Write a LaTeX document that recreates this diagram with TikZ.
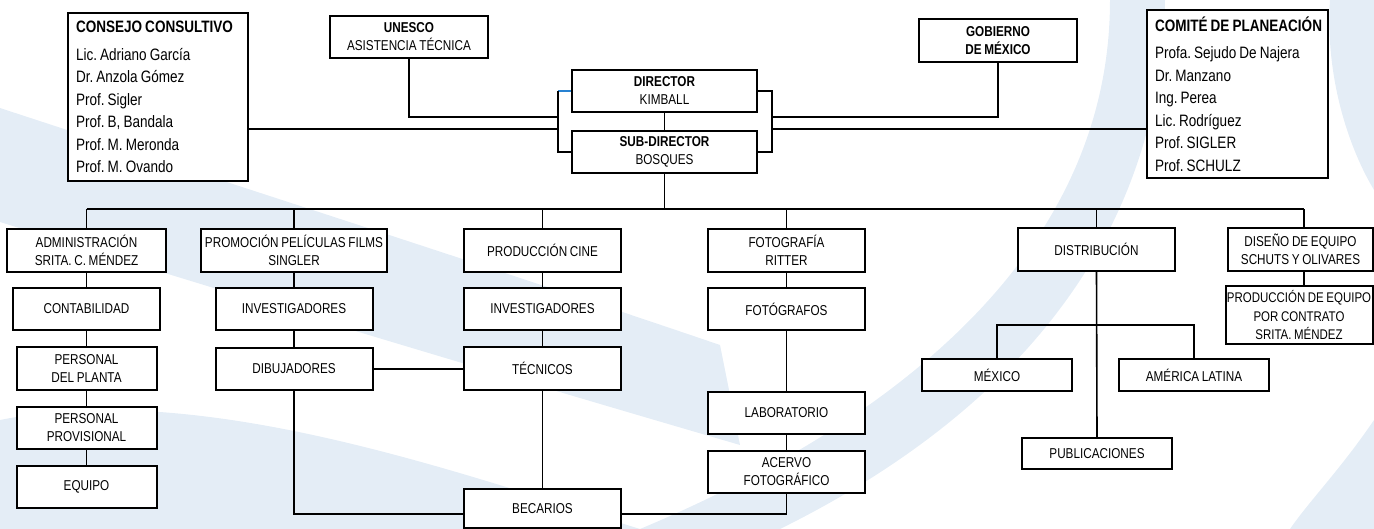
\documentclass[tikz,border=0pt]{standalone}
\usepackage{fontspec}
\setmainfont{Liberation Sans}[FakeStretch=0.82, WordSpace=0.82]
\usetikzlibrary{calc}
\definecolor{wm}{RGB}{228,237,246}
\definecolor{bluetick}{RGB}{40,130,210}
\tikzset{
  bx/.style={draw=black, line width=2pt, fill=white, inner sep=0pt, align=flush center,
    font=\fontsize{14.3}{18}\selectfont},
  lst/.style={draw=black, line width=2pt, fill=white, inner xsep=8pt, inner ysep=0pt, align=flush left,
    font=\frenchspacing\fontsize{16.5}{22.5}\selectfont},
  ln/.style={draw=black, line width=1.6pt},
}
\begin{document}
\begin{tikzpicture}[x=1pt,y=-1pt]
\useasboundingbox (0,0) rectangle (1374,529);
% watermark
\fill[wm] (0,108) .. controls (250,190) and (500,270) .. (720,345)
  -- (740,445) .. controls (500,375) and (250,300) .. (0,222) -- cycle;
\fill[wm] (0,420) .. controls (200,380) and (450,470) .. (640,529) -- (0,529) -- cycle;
\fill[wm] (1110,0) .. controls (1110,250) and (900,420) .. (640,529)
  -- (780,529) .. controls (960,440) and (1160,280) .. (1165,0) -- cycle;
\fill[wm] (1330,0) .. controls (1325,80) and (1350,150) .. (1374,190) -- (1374,0) -- cycle;
\fill[wm] (1374,420) .. controls (1340,470) and (1310,500) .. (1290,529) -- (1374,529) -- cycle;

% top level
\node[lst, text width=164pt, minimum height=168pt] (consejo) at (158,97)
  {\vspace*{5pt}\mbox{\textbf{CONSEJO CONSULTIVO}}\\Lic. Adriano García\\Dr. Anzola Gómez\\Prof. Sigler\\Prof. B, Bandala\\Prof. M. Meronda\\Prof. M. Ovando};
\node[bx, minimum width=158pt, minimum height=42pt] (unesco) at (409,37)
  {\textbf{UNESCO}\\ASISTENCIA TÉCNICA};
\node[bx, minimum width=185pt, minimum height=42pt] (director) at (664.5,91)
  {\textbf{DIRECTOR}\\KIMBALL};
\node[bx, minimum width=185pt, minimum height=42pt] (subdir) at (664.5,152)
  {\textbf{SUB-DIRECTOR}\\BOSQUES};
\node[bx, minimum width=158pt, minimum height=43pt] (gobierno) at (998,40.5)
  {\textbf{GOBIERNO}\\\textbf{DE MÉXICO}};
\node[lst, text width=165pt, minimum height=168pt] (comite) at (1237.5,94)
  {\vspace*{5pt}\mbox{\textbf{COMITÉ DE PLANEACIÓN}}\\Profa. Sejudo De Najera\\Dr. Manzano\\Ing. Perea\\Lic. Rodríguez\\Prof. SIGLER\\Prof. SCHULZ};

% row 1
\node[bx, minimum width=159pt, minimum height=43pt] (admin) at (86.5,250.5)
  {ADMINISTRACIÓN\\SRITA. C. MÉNDEZ};
\node[bx, minimum width=186pt, minimum height=43pt] (promo) at (294,250.5)
  {PROMOCIÓN PELÍCULAS FILMS\\SINGLER};
\node[bx, minimum width=157pt, minimum height=43pt] (prodcine) at (542.5,250.5)
  {PRODUCCIÓN CINE};
\node[bx, minimum width=157pt, minimum height=43pt] (foto) at (786.5,250.5)
  {FOTOGRAFÍA\\RITTER};
\node[bx, minimum width=157pt, minimum height=43pt] (distrib) at (1096.5,249.5)
  {DISTRIBUCIÓN};
\node[bx, minimum width=145pt, minimum height=43pt] (diseno) at (1300.5,249.5)
  {DISEÑO DE EQUIPO\\SCHUTS Y OLIVARES};

% row 2
\node[bx, minimum width=147pt, minimum height=42pt] (conta) at (86.5,309) {CONTABILIDAD};
\node[bx, minimum width=157pt, minimum height=42pt] (invl) at (294,309) {INVESTIGADORES};
\node[bx, minimum width=157pt, minimum height=42pt] (invm) at (542.5,309) {INVESTIGADORES};
\node[bx, minimum width=157pt, minimum height=42pt] (fotog) at (786.5,309) {FOTÓGRAFOS};
\node[bx, minimum width=147pt, minimum height=58pt, font=\fontsize{14}{18.5}\selectfont] (prodeq) at (1299,315)
  {PRODUCCIÓN DE EQUIPO\\POR CONTRATO\\SRITA. MÉNDEZ};

% row 3 and below
\node[bx, minimum width=140pt, minimum height=43pt] (planta) at (86.5,368.5) {PERSONAL\\DEL PLANTA};
\node[bx, minimum width=140pt, minimum height=42pt] (provis) at (86.5,428) {PERSONAL\\PROVISIONAL};
\node[bx, minimum width=140pt, minimum height=42pt] (equipo) at (86.5,487) {EQUIPO};
\node[bx, minimum width=157pt, minimum height=42pt] (dibuj) at (294,369) {DIBUJADORES};
\node[bx, minimum width=157pt, minimum height=43pt] (tecn) at (542.5,368.5) {TÉCNICOS};
\node[bx, minimum width=157pt, minimum height=39pt] (becar) at (542.5,508.5) {BECARIOS};
\node[bx, minimum width=157pt, minimum height=42pt] (lab) at (786.5,413) {LABORATORIO};
\node[bx, minimum width=157pt, minimum height=42pt] (acervo) at (786.5,472) {ACERVO\\FOTOGRÁFICO};
\node[bx, minimum width=150pt, minimum height=32pt] (mexico) at (997,375) {MÉXICO};
\node[bx, minimum width=150pt, minimum height=32pt] (amer) at (1194,375) {AMÉRICA LATINA};
\node[bx, minimum width=150pt, minimum height=31pt] (publi) at (1097,453.5) {PUBLICACIONES};

% helper coordinates
\coordinate (lbx) at (558,117);
\coordinate (rbx) at (772,117);
\coordinate (mainy) at (0,129);
\coordinate (bus) at (0,209);
\coordinate (sbus) at (0,325);
\coordinate (bot) at (0,514);
\coordinate (dx) at (1304,0);

% top connectors
\draw[ln] (unesco.south) |- (lbx);
\draw[ln] (gobierno.south) |- (rbx);
\draw[ln] (consejo.east |- mainy) -- (lbx |- mainy);
\draw[ln] (comite.west |- mainy) -- (rbx |- mainy);
\draw[ln, draw=bluetick] (director.west) -- (lbx |- director.west);
\draw[ln] (lbx |- director.west) |- (subdir.west);
\draw[ln] (director.east) -| (rbx |- subdir.east) -- (subdir.east);
\draw[ln] (director.south) -- (subdir.north);

% main bus
\draw[ln] (subdir.south) -- (subdir.south |- bus);
\draw[ln] (admin.north |- bus) -- (dx |- bus);
\foreach \n in {admin,promo,prodcine,foto,distrib}
  \draw[ln] (\n.north) -- (\n.north |- bus);
\draw[ln] (dx |- diseno.north) -- (dx |- bus);

% chains
\draw[ln] (admin.south) -- (conta.north);
\draw[ln] (conta.south) -- (planta.north);
\draw[ln] (planta.south) -- (provis.north);
\draw[ln] (provis.south) -- (equipo.north);
\draw[ln] (promo.south) -- (invl.north);
\draw[ln] (invl.south) -- (dibuj.north);
\draw[ln] (prodcine.south) -- (invm.north);
\draw[ln] (invm.south) -- (tecn.north);
\draw[ln] (tecn.south) -- (becar.north);
\draw[ln] (dibuj.east) -- (tecn.west |- dibuj.east);
\draw[ln] (dibuj.south) |- (becar.west |- bot);
\draw[ln] (becar.east |- bot) -| (acervo.south);
\draw[ln] (foto.south) -- (fotog.north);
\draw[ln] (fotog.south) -- (lab.north);
\draw[ln] (lab.south) -- (acervo.north);
\draw[ln] (dx |- prodeq.north) -- (dx |- diseno.south);
\draw[ln] (distrib.south) -- (publi.north);
\draw[ln] (mexico.north) -- (mexico.north |- sbus) -- (amer.north |- sbus) -- (amer.north);
\end{tikzpicture}
\end{document}
